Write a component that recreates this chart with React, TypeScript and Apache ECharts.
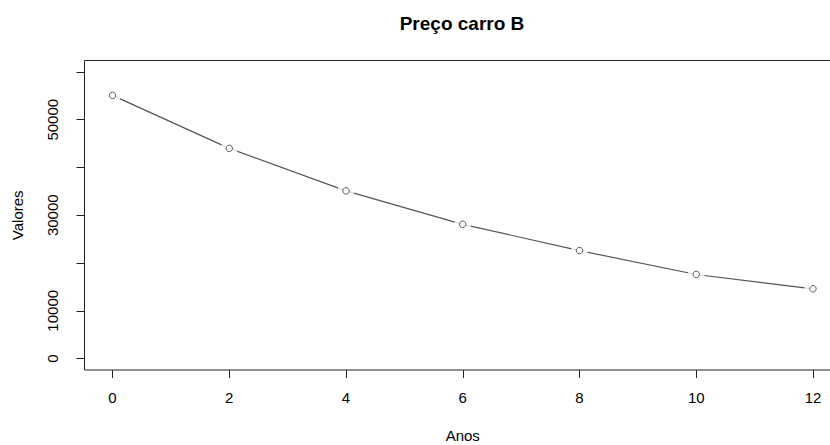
import React, { useEffect, useRef } from "react";
import * as echarts from "echarts";

const anos = [0, 2, 4, 6, 8, 10, 12];
const valores = [55100, 44000, 35100, 28100, 22600, 17600, 14600];
const xTicks = [0, 2, 4, 6, 8, 10, 12];
const yTicks = [0, 10000, 20000, 30000, 40000, 50000, 60000];
const yLabels = [0, 10000, 30000, 50000];
const titulo = "Preço carro B";
const nomeX = "Anos";
const nomeY = "Valores";

export default function App() {
  const ref = useRef<HTMLDivElement>(null);
  useEffect(() => {
    if (!ref.current) return;
    const chart = echarts.init(ref.current, null, { renderer: "svg" });
    const pts = anos.map((a, i) => [a, valores[i]]);
    const font = "Liberation Sans, Arial, sans-serif";
    chart.setOption({
      animation: false,
      backgroundColor: "#fff",
      graphic: [
        {
          type: "text",
          x: 462,
          y: 23,
          style: {
            text: titulo,
            fontFamily: font,
            fontWeight: "bold",
            fontSize: 19,
            fill: "#000",
            textAlign: "center",
            textVerticalAlign: "middle",
          },
        },
      ],
      grid: {
        left: 84.5,
        top: 60.5,
        width: 756.5,
        height: 309.5,
        outerBoundsMode: "none",
        containLabel: false,
        show: true,
        borderColor: "#222",
        borderWidth: 1,
        backgroundColor: "transparent",
      },
      xAxis: {
        type: "value",
        min: -0.48,
        max: 12.48,
        name: nomeX,
        nameLocation: "middle",
        nameGap: 58,
        nameTextStyle: { fontFamily: font, fontSize: 15, color: "#000" },
        axisLine: { show: false, onZero: false },
        splitLine: { show: false },
        axisTick: {
          show: true,
          inside: false,
          length: 8,
          lineStyle: { color: "#222" },
          customValues: xTicks,
        },
        axisLabel: {
          fontFamily: font,
          fontSize: 15,
          color: "#000",
          margin: 20,
          formatter: (v: number) => String(v),
          customValues: xTicks,
        },
      },
      yAxis: {
        type: "value",
        min: -2400,
        max: 62400,
        name: nomeY,
        nameLocation: "middle",
        nameGap: 60,
        nameRotate: 90,
        nameTextStyle: { fontFamily: font, fontSize: 15, color: "#000" },
        axisLine: { show: false, onZero: false },
        splitLine: { show: false },
        axisTick: {
          show: true,
          inside: false,
          length: 8,
          lineStyle: { color: "#222" },
          customValues: yTicks,
        },
        axisLabel: {
          fontFamily: font,
          fontSize: 15,
          color: "#000",
          rotate: 90,
          margin: 25,
          formatter: (v: number) => String(v),
          customValues: yLabels,
        },
      },
      series: [
        {
          type: "line",
          data: pts,
          showSymbol: false,
          symbol: "none",
          lineStyle: { color: "#555", width: 1.2 },
          z: 2,
        },
        {
          type: "scatter",
          data: pts,
          symbol: "circle",
          symbolSize: 17,
          itemStyle: { color: "#fff", borderWidth: 0 },
          z: 3,
          silent: true,
        },
        {
          type: "scatter",
          data: pts,
          symbol: "circle",
          symbolSize: 6.5,
          itemStyle: { color: "#fff", borderColor: "#333", borderWidth: 1 },
          z: 4,
          silent: true,
        },
      ],
    });
    return () => chart.dispose();
  }, []);
  return (
    <div
      ref={ref}
      style={{ position: "absolute", left: 0, top: 0, width: 830, height: 445 }}
    />
  );
}
